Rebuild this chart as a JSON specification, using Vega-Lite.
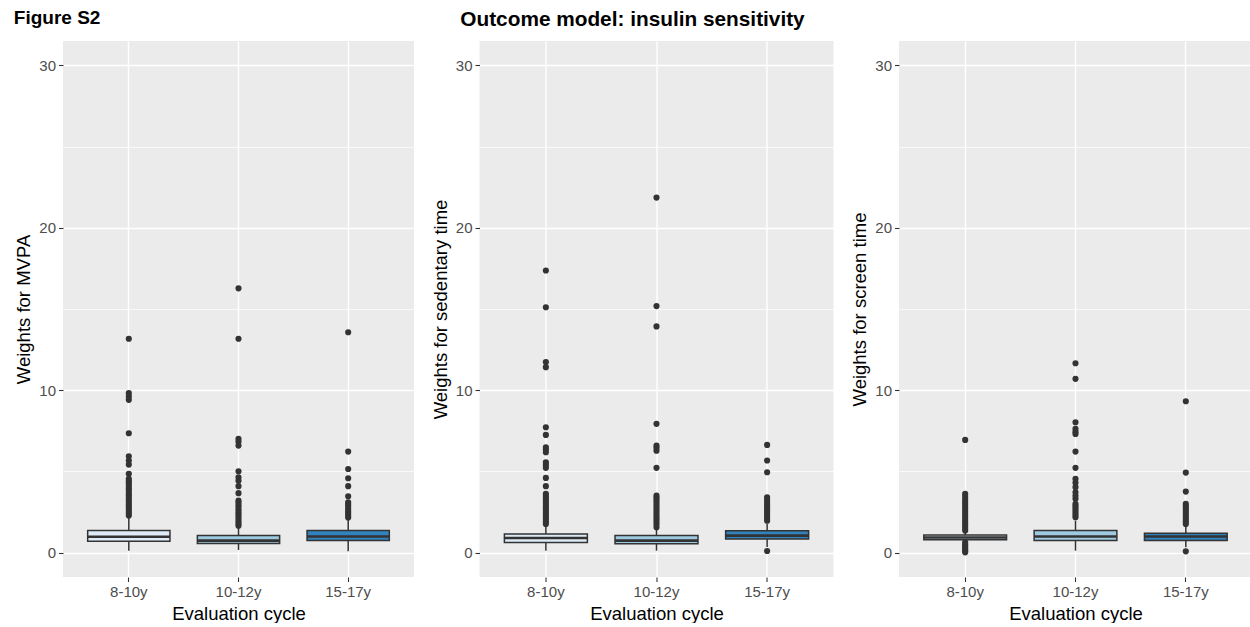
{
  "$schema": "https://vega.github.io/schema/vega-lite/v6.json",
  "padding": {"left": 13, "top": 9, "right": 0, "bottom": 0},
  "background": "white",
  "bounds": "flush",
  "spacing": 65.5,
  "config": {
    "font": "Liberation Sans",
    "view": {"fill": "#EBEBEB", "stroke": null},
    "axis": {
      "domain": false,
      "gridColor": "white",
      "gridWidth": 1.4,
      "tickColor": "#333333",
      "tickSize": 4.5,
      "tickWidth": 1.1,
      "labelColor": "#4D4D4D",
      "labelFontSize": 15,
      "labelPadding": 3,
      "titleColor": "black",
      "titleFontSize": 18.5,
      "titleFontWeight": "normal",
      "titlePadding": 5
    },
    "title": {"color": "black", "fontWeight": "bold", "fontSize": 19, "offset": 10}
  },
  "datasets": {
    "boxes": [
      {"panel": "MVPA", "cycle": "8-10y", "lower": 0.12, "q1": 0.70, "median": 0.98, "q3": 1.37, "upper": 2.14},
      {"panel": "MVPA", "cycle": "10-12y", "lower": 0.16, "q1": 0.57, "median": 0.74, "q3": 1.05, "upper": 1.56},
      {"panel": "MVPA", "cycle": "15-17y", "lower": 0.08, "q1": 0.74, "median": 0.99, "q3": 1.36, "upper": 2.03},
      {"panel": "SED", "cycle": "8-10y", "lower": 0.12, "q1": 0.62, "median": 0.90, "q3": 1.15, "upper": 1.66},
      {"panel": "SED", "cycle": "10-12y", "lower": 0.12, "q1": 0.55, "median": 0.74, "q3": 1.05, "upper": 1.50},
      {"panel": "SED", "cycle": "15-17y", "lower": 0.35, "q1": 0.84, "median": 1.05, "q3": 1.34, "upper": 1.77},
      {"panel": "SCR", "cycle": "8-10y", "lower": 0.68, "q1": 0.80, "median": 0.93, "q3": 1.08, "upper": 1.30},
      {"panel": "SCR", "cycle": "10-12y", "lower": 0.12, "q1": 0.74, "median": 0.99, "q3": 1.36, "upper": 1.97},
      {"panel": "SCR", "cycle": "15-17y", "lower": 0.33, "q1": 0.74, "median": 0.99, "q3": 1.19, "upper": 1.66}
    ],
    "outliers": [
      {"panel": "MVPA", "cycle": "8-10y", "value": 13.17}, {"panel": "MVPA", "cycle": "8-10y", "value": 9.82}, {"panel": "MVPA", "cycle": "8-10y", "value": 9.61}, {"panel": "MVPA", "cycle": "8-10y", "value": 9.41}, {"panel": "MVPA", "cycle": "8-10y", "value": 7.35}, {"panel": "MVPA", "cycle": "8-10y", "value": 5.93}, {"panel": "MVPA", "cycle": "8-10y", "value": 5.67}, {"panel": "MVPA", "cycle": "8-10y", "value": 5.42}, {"panel": "MVPA", "cycle": "8-10y", "value": 4.85}, {"panel": "MVPA", "cycle": "8-10y", "value": 4.54}, {"panel": "MVPA", "cycle": "8-10y", "value": 4.41}, {"panel": "MVPA", "cycle": "8-10y", "value": 4.30}, {"panel": "MVPA", "cycle": "8-10y", "value": 4.18}, {"panel": "MVPA", "cycle": "8-10y", "value": 4.02}, {"panel": "MVPA", "cycle": "8-10y", "value": 3.90}, {"panel": "MVPA", "cycle": "8-10y", "value": 3.77}, {"panel": "MVPA", "cycle": "8-10y", "value": 3.61}, {"panel": "MVPA", "cycle": "8-10y", "value": 3.50}, {"panel": "MVPA", "cycle": "8-10y", "value": 3.36}, {"panel": "MVPA", "cycle": "8-10y", "value": 3.22}, {"panel": "MVPA", "cycle": "8-10y", "value": 3.10}, {"panel": "MVPA", "cycle": "8-10y", "value": 2.95}, {"panel": "MVPA", "cycle": "8-10y", "value": 2.83}, {"panel": "MVPA", "cycle": "8-10y", "value": 2.69}, {"panel": "MVPA", "cycle": "8-10y", "value": 2.55}, {"panel": "MVPA", "cycle": "8-10y", "value": 2.41}, {"panel": "MVPA", "cycle": "8-10y", "value": 2.28},
      {"panel": "MVPA", "cycle": "10-12y", "value": 16.27}, {"panel": "MVPA", "cycle": "10-12y", "value": 13.17}, {"panel": "MVPA", "cycle": "10-12y", "value": 7.00}, {"panel": "MVPA", "cycle": "10-12y", "value": 6.82}, {"panel": "MVPA", "cycle": "10-12y", "value": 6.59}, {"panel": "MVPA", "cycle": "10-12y", "value": 5.01}, {"panel": "MVPA", "cycle": "10-12y", "value": 4.64}, {"panel": "MVPA", "cycle": "10-12y", "value": 4.43}, {"panel": "MVPA", "cycle": "10-12y", "value": 4.09}, {"panel": "MVPA", "cycle": "10-12y", "value": 3.66}, {"panel": "MVPA", "cycle": "10-12y", "value": 3.20}, {"panel": "MVPA", "cycle": "10-12y", "value": 3.08}, {"panel": "MVPA", "cycle": "10-12y", "value": 2.93}, {"panel": "MVPA", "cycle": "10-12y", "value": 2.80}, {"panel": "MVPA", "cycle": "10-12y", "value": 2.64}, {"panel": "MVPA", "cycle": "10-12y", "value": 2.50}, {"panel": "MVPA", "cycle": "10-12y", "value": 2.37}, {"panel": "MVPA", "cycle": "10-12y", "value": 2.22}, {"panel": "MVPA", "cycle": "10-12y", "value": 2.08}, {"panel": "MVPA", "cycle": "10-12y", "value": 1.93}, {"panel": "MVPA", "cycle": "10-12y", "value": 1.80}, {"panel": "MVPA", "cycle": "10-12y", "value": 1.66},
      {"panel": "MVPA", "cycle": "15-17y", "value": 13.57}, {"panel": "MVPA", "cycle": "15-17y", "value": 6.22}, {"panel": "MVPA", "cycle": "15-17y", "value": 5.15}, {"panel": "MVPA", "cycle": "15-17y", "value": 4.58}, {"panel": "MVPA", "cycle": "15-17y", "value": 4.09}, {"panel": "MVPA", "cycle": "15-17y", "value": 3.47}, {"panel": "MVPA", "cycle": "15-17y", "value": 3.10}, {"panel": "MVPA", "cycle": "15-17y", "value": 2.98}, {"panel": "MVPA", "cycle": "15-17y", "value": 2.85}, {"panel": "MVPA", "cycle": "15-17y", "value": 2.70}, {"panel": "MVPA", "cycle": "15-17y", "value": 2.57}, {"panel": "MVPA", "cycle": "15-17y", "value": 2.44}, {"panel": "MVPA", "cycle": "15-17y", "value": 2.30}, {"panel": "MVPA", "cycle": "15-17y", "value": 2.17},
      {"panel": "SED", "cycle": "8-10y", "value": 17.37}, {"panel": "SED", "cycle": "8-10y", "value": 15.11}, {"panel": "SED", "cycle": "8-10y", "value": 11.73}, {"panel": "SED", "cycle": "8-10y", "value": 11.42}, {"panel": "SED", "cycle": "8-10y", "value": 7.72}, {"panel": "SED", "cycle": "8-10y", "value": 7.25}, {"panel": "SED", "cycle": "8-10y", "value": 6.49}, {"panel": "SED", "cycle": "8-10y", "value": 6.35}, {"panel": "SED", "cycle": "8-10y", "value": 6.18}, {"panel": "SED", "cycle": "8-10y", "value": 5.56}, {"panel": "SED", "cycle": "8-10y", "value": 5.40}, {"panel": "SED", "cycle": "8-10y", "value": 5.22}, {"panel": "SED", "cycle": "8-10y", "value": 4.60}, {"panel": "SED", "cycle": "8-10y", "value": 4.09}, {"panel": "SED", "cycle": "8-10y", "value": 3.62}, {"panel": "SED", "cycle": "8-10y", "value": 3.48}, {"panel": "SED", "cycle": "8-10y", "value": 3.33}, {"panel": "SED", "cycle": "8-10y", "value": 3.20}, {"panel": "SED", "cycle": "8-10y", "value": 3.05}, {"panel": "SED", "cycle": "8-10y", "value": 2.90}, {"panel": "SED", "cycle": "8-10y", "value": 2.77}, {"panel": "SED", "cycle": "8-10y", "value": 2.63}, {"panel": "SED", "cycle": "8-10y", "value": 2.48}, {"panel": "SED", "cycle": "8-10y", "value": 2.34}, {"panel": "SED", "cycle": "8-10y", "value": 2.20}, {"panel": "SED", "cycle": "8-10y", "value": 2.05}, {"panel": "SED", "cycle": "8-10y", "value": 1.91}, {"panel": "SED", "cycle": "8-10y", "value": 1.77},
      {"panel": "SED", "cycle": "10-12y", "value": 21.86}, {"panel": "SED", "cycle": "10-12y", "value": 15.18}, {"panel": "SED", "cycle": "10-12y", "value": 13.93}, {"panel": "SED", "cycle": "10-12y", "value": 7.93}, {"panel": "SED", "cycle": "10-12y", "value": 6.59}, {"panel": "SED", "cycle": "10-12y", "value": 6.45}, {"panel": "SED", "cycle": "10-12y", "value": 6.28}, {"panel": "SED", "cycle": "10-12y", "value": 5.22}, {"panel": "SED", "cycle": "10-12y", "value": 3.51}, {"panel": "SED", "cycle": "10-12y", "value": 3.37}, {"panel": "SED", "cycle": "10-12y", "value": 3.22}, {"panel": "SED", "cycle": "10-12y", "value": 3.08}, {"panel": "SED", "cycle": "10-12y", "value": 2.93}, {"panel": "SED", "cycle": "10-12y", "value": 2.79}, {"panel": "SED", "cycle": "10-12y", "value": 2.64}, {"panel": "SED", "cycle": "10-12y", "value": 2.50}, {"panel": "SED", "cycle": "10-12y", "value": 2.35}, {"panel": "SED", "cycle": "10-12y", "value": 2.20}, {"panel": "SED", "cycle": "10-12y", "value": 2.06}, {"panel": "SED", "cycle": "10-12y", "value": 1.90}, {"panel": "SED", "cycle": "10-12y", "value": 1.75}, {"panel": "SED", "cycle": "10-12y", "value": 1.56},
      {"panel": "SED", "cycle": "15-17y", "value": 6.63}, {"panel": "SED", "cycle": "15-17y", "value": 5.67}, {"panel": "SED", "cycle": "15-17y", "value": 4.95}, {"panel": "SED", "cycle": "15-17y", "value": 3.41}, {"panel": "SED", "cycle": "15-17y", "value": 3.27}, {"panel": "SED", "cycle": "15-17y", "value": 3.12}, {"panel": "SED", "cycle": "15-17y", "value": 2.97}, {"panel": "SED", "cycle": "15-17y", "value": 2.82}, {"panel": "SED", "cycle": "15-17y", "value": 2.68}, {"panel": "SED", "cycle": "15-17y", "value": 2.54}, {"panel": "SED", "cycle": "15-17y", "value": 2.40}, {"panel": "SED", "cycle": "15-17y", "value": 2.25}, {"panel": "SED", "cycle": "15-17y", "value": 2.11}, {"panel": "SED", "cycle": "15-17y", "value": 1.97}, {"panel": "SED", "cycle": "15-17y", "value": 0.10},
      {"panel": "SCR", "cycle": "8-10y", "value": 6.94}, {"panel": "SCR", "cycle": "8-10y", "value": 3.62}, {"panel": "SCR", "cycle": "8-10y", "value": 3.47}, {"panel": "SCR", "cycle": "8-10y", "value": 3.30}, {"panel": "SCR", "cycle": "8-10y", "value": 3.15}, {"panel": "SCR", "cycle": "8-10y", "value": 3.00}, {"panel": "SCR", "cycle": "8-10y", "value": 2.84}, {"panel": "SCR", "cycle": "8-10y", "value": 2.70}, {"panel": "SCR", "cycle": "8-10y", "value": 2.55}, {"panel": "SCR", "cycle": "8-10y", "value": 2.40}, {"panel": "SCR", "cycle": "8-10y", "value": 2.25}, {"panel": "SCR", "cycle": "8-10y", "value": 2.10}, {"panel": "SCR", "cycle": "8-10y", "value": 1.95}, {"panel": "SCR", "cycle": "8-10y", "value": 1.80}, {"panel": "SCR", "cycle": "8-10y", "value": 1.66}, {"panel": "SCR", "cycle": "8-10y", "value": 1.50}, {"panel": "SCR", "cycle": "8-10y", "value": 1.36}, {"panel": "SCR", "cycle": "8-10y", "value": 0.64}, {"panel": "SCR", "cycle": "8-10y", "value": 0.52}, {"panel": "SCR", "cycle": "8-10y", "value": 0.42}, {"panel": "SCR", "cycle": "8-10y", "value": 0.30}, {"panel": "SCR", "cycle": "8-10y", "value": 0.20}, {"panel": "SCR", "cycle": "8-10y", "value": 0.10}, {"panel": "SCR", "cycle": "8-10y", "value": 0.02},
      {"panel": "SCR", "cycle": "10-12y", "value": 11.66}, {"panel": "SCR", "cycle": "10-12y", "value": 10.70}, {"panel": "SCR", "cycle": "10-12y", "value": 8.03}, {"panel": "SCR", "cycle": "10-12y", "value": 7.62}, {"panel": "SCR", "cycle": "10-12y", "value": 7.45}, {"panel": "SCR", "cycle": "10-12y", "value": 7.31}, {"panel": "SCR", "cycle": "10-12y", "value": 6.22}, {"panel": "SCR", "cycle": "10-12y", "value": 5.22}, {"panel": "SCR", "cycle": "10-12y", "value": 4.54}, {"panel": "SCR", "cycle": "10-12y", "value": 4.30}, {"panel": "SCR", "cycle": "10-12y", "value": 4.03}, {"panel": "SCR", "cycle": "10-12y", "value": 3.72}, {"panel": "SCR", "cycle": "10-12y", "value": 3.50}, {"panel": "SCR", "cycle": "10-12y", "value": 3.31}, {"panel": "SCR", "cycle": "10-12y", "value": 3.00}, {"panel": "SCR", "cycle": "10-12y", "value": 2.86}, {"panel": "SCR", "cycle": "10-12y", "value": 2.72}, {"panel": "SCR", "cycle": "10-12y", "value": 2.58}, {"panel": "SCR", "cycle": "10-12y", "value": 2.44}, {"panel": "SCR", "cycle": "10-12y", "value": 2.30}, {"panel": "SCR", "cycle": "10-12y", "value": 2.18},
      {"panel": "SCR", "cycle": "15-17y", "value": 9.32}, {"panel": "SCR", "cycle": "15-17y", "value": 4.93}, {"panel": "SCR", "cycle": "15-17y", "value": 3.76}, {"panel": "SCR", "cycle": "15-17y", "value": 3.00}, {"panel": "SCR", "cycle": "15-17y", "value": 2.86}, {"panel": "SCR", "cycle": "15-17y", "value": 2.72}, {"panel": "SCR", "cycle": "15-17y", "value": 2.58}, {"panel": "SCR", "cycle": "15-17y", "value": 2.44}, {"panel": "SCR", "cycle": "15-17y", "value": 2.30}, {"panel": "SCR", "cycle": "15-17y", "value": 2.16}, {"panel": "SCR", "cycle": "15-17y", "value": 2.02}, {"panel": "SCR", "cycle": "15-17y", "value": 1.90}, {"panel": "SCR", "cycle": "15-17y", "value": 1.77}, {"panel": "SCR", "cycle": "15-17y", "value": 0.08}
    ]
  },
  "hconcat": [
    {
      "width": 351, "height": 536,
      "title": {"text": "Figure S2", "anchor": "start", "frame": "bounds", "fontSize": 19, "dy": -3, "dx": -1},
      "layer": [
        {"data": {"name": "boxes"}, "transform": [{"filter": "datum.panel === 'MVPA'"}],
         "mark": {"type": "rule", "color": "#333333", "strokeWidth": 1.5},
         "encoding": {
           "x": {"field": "cycle", "type": "nominal", "sort": ["8-10y", "10-12y", "15-17y"], "scale": {"type": "band", "paddingInner": 0.25, "paddingOuter": 0.225}, "axis": {"title": "Evaluation cycle", "labelAngle": 0, "bandPosition": 0.5, "grid": true}},
           "y": {"field": "lower", "type": "quantitative", "title": "Weights for MVPA", "scale": {"domain": [-1.5, 31.5], "nice": false, "zero": false},
                 "axis": {"values": [0, 5, 10, 15, 20, 25, 30], "labelExpr": "datum.value % 10 === 0 ? datum.label : ''", "tickOpacity": {"condition": {"test": "datum.value % 10 === 0", "value": 1}, "value": 0}, "gridWidth": {"condition": {"test": "datum.value % 10 === 0", "value": 1.4}, "value": 0.7}}},
           "y2": {"field": "upper"}
         }},
        {"data": {"name": "boxes"}, "transform": [{"filter": "datum.panel === 'MVPA'"}],
         "mark": {"type": "bar", "stroke": "#333333", "strokeWidth": 1.5},
         "encoding": {
           "x": {"field": "cycle", "type": "nominal", "sort": ["8-10y", "10-12y", "15-17y"]},
           "y": {"field": "q1", "type": "quantitative", "title": "Weights for MVPA"},
           "y2": {"field": "q3"},
           "fill": {"field": "cycle", "type": "nominal", "scale": {"domain": ["8-10y", "10-12y", "15-17y"], "range": ["#DEEBF7", "#9ECAE1", "#3182BD"]}, "legend": null}
         }},
        {"data": {"name": "boxes"}, "transform": [{"filter": "datum.panel === 'MVPA'"}],
         "mark": {"type": "bar", "fill": null, "stroke": "#333333", "strokeWidth": 2.6},
         "encoding": {
           "x": {"field": "cycle", "type": "nominal", "sort": ["8-10y", "10-12y", "15-17y"]},
           "y": {"field": "median", "type": "quantitative", "title": "Weights for MVPA"},
           "y2": {"field": "median"}
         }},
        {"data": {"name": "outliers"}, "transform": [{"filter": "datum.panel === 'MVPA'"}],
         "mark": {"type": "circle", "color": "#333333", "size": 38, "opacity": 1},
         "encoding": {
           "x": {"field": "cycle", "type": "nominal", "sort": ["8-10y", "10-12y", "15-17y"]},
           "y": {"field": "value", "type": "quantitative", "title": "Weights for MVPA"}
         }},
        {"mark": {"type": "rule", "color": "black", "strokeWidth": 1.7},
         "encoding": {"y": {"datum": 1, "type": "quantitative", "title": "Weights for MVPA"}}}
      ]
    },
    {
      "width": 354, "height": 536,
      "title": {"text": "Outcome model: insulin sensitivity", "anchor": "middle", "frame": "group", "dx": -24, "fontSize": 20.8},
      "layer": [
        {"data": {"name": "boxes"}, "transform": [{"filter": "datum.panel === 'SED'"}],
         "mark": {"type": "rule", "color": "#333333", "strokeWidth": 1.5},
         "encoding": {
           "x": {"field": "cycle", "type": "nominal", "sort": ["8-10y", "10-12y", "15-17y"], "scale": {"type": "band", "paddingInner": 0.25, "paddingOuter": 0.225}, "axis": {"title": "Evaluation cycle", "labelAngle": 0, "bandPosition": 0.5, "grid": true}},
           "y": {"field": "lower", "type": "quantitative", "title": "Weights for sedentary time", "scale": {"domain": [-1.5, 31.5], "nice": false, "zero": false},
                 "axis": {"values": [0, 5, 10, 15, 20, 25, 30], "labelExpr": "datum.value % 10 === 0 ? datum.label : ''", "tickOpacity": {"condition": {"test": "datum.value % 10 === 0", "value": 1}, "value": 0}, "gridWidth": {"condition": {"test": "datum.value % 10 === 0", "value": 1.4}, "value": 0.7}}},
           "y2": {"field": "upper"}
         }},
        {"data": {"name": "boxes"}, "transform": [{"filter": "datum.panel === 'SED'"}],
         "mark": {"type": "bar", "stroke": "#333333", "strokeWidth": 1.5},
         "encoding": {
           "x": {"field": "cycle", "type": "nominal", "sort": ["8-10y", "10-12y", "15-17y"]},
           "y": {"field": "q1", "type": "quantitative", "title": "Weights for sedentary time"},
           "y2": {"field": "q3"},
           "fill": {"field": "cycle", "type": "nominal", "scale": {"domain": ["8-10y", "10-12y", "15-17y"], "range": ["#DEEBF7", "#9ECAE1", "#3182BD"]}, "legend": null}
         }},
        {"data": {"name": "boxes"}, "transform": [{"filter": "datum.panel === 'SED'"}],
         "mark": {"type": "bar", "fill": null, "stroke": "#333333", "strokeWidth": 2.6},
         "encoding": {
           "x": {"field": "cycle", "type": "nominal", "sort": ["8-10y", "10-12y", "15-17y"]},
           "y": {"field": "median", "type": "quantitative", "title": "Weights for sedentary time"},
           "y2": {"field": "median"}
         }},
        {"data": {"name": "outliers"}, "transform": [{"filter": "datum.panel === 'SED'"}],
         "mark": {"type": "circle", "color": "#333333", "size": 38, "opacity": 1},
         "encoding": {
           "x": {"field": "cycle", "type": "nominal", "sort": ["8-10y", "10-12y", "15-17y"]},
           "y": {"field": "value", "type": "quantitative", "title": "Weights for sedentary time"}
         }},
        {"mark": {"type": "rule", "color": "black", "strokeWidth": 1.7},
         "encoding": {"y": {"datum": 1, "type": "quantitative", "title": "Weights for sedentary time"}}}
      ]
    },
    {
      "width": 353, "height": 536,
      "layer": [
        {"data": {"name": "boxes"}, "transform": [{"filter": "datum.panel === 'SCR'"}],
         "mark": {"type": "rule", "color": "#333333", "strokeWidth": 1.5},
         "encoding": {
           "x": {"field": "cycle", "type": "nominal", "sort": ["8-10y", "10-12y", "15-17y"], "scale": {"type": "band", "paddingInner": 0.25, "paddingOuter": 0.225}, "axis": {"title": "Evaluation cycle", "labelAngle": 0, "bandPosition": 0.5, "grid": true}},
           "y": {"field": "lower", "type": "quantitative", "title": "Weights for screen time", "scale": {"domain": [-1.5, 31.5], "nice": false, "zero": false},
                 "axis": {"values": [0, 5, 10, 15, 20, 25, 30], "labelExpr": "datum.value % 10 === 0 ? datum.label : ''", "tickOpacity": {"condition": {"test": "datum.value % 10 === 0", "value": 1}, "value": 0}, "gridWidth": {"condition": {"test": "datum.value % 10 === 0", "value": 1.4}, "value": 0.7}}},
           "y2": {"field": "upper"}
         }},
        {"data": {"name": "boxes"}, "transform": [{"filter": "datum.panel === 'SCR'"}],
         "mark": {"type": "bar", "stroke": "#333333", "strokeWidth": 1.5},
         "encoding": {
           "x": {"field": "cycle", "type": "nominal", "sort": ["8-10y", "10-12y", "15-17y"]},
           "y": {"field": "q1", "type": "quantitative", "title": "Weights for screen time"},
           "y2": {"field": "q3"},
           "fill": {"field": "cycle", "type": "nominal", "scale": {"domain": ["8-10y", "10-12y", "15-17y"], "range": ["#DEEBF7", "#9ECAE1", "#3182BD"]}, "legend": null}
         }},
        {"data": {"name": "boxes"}, "transform": [{"filter": "datum.panel === 'SCR'"}],
         "mark": {"type": "bar", "fill": null, "stroke": "#333333", "strokeWidth": 2.6},
         "encoding": {
           "x": {"field": "cycle", "type": "nominal", "sort": ["8-10y", "10-12y", "15-17y"]},
           "y": {"field": "median", "type": "quantitative", "title": "Weights for screen time"},
           "y2": {"field": "median"}
         }},
        {"data": {"name": "outliers"}, "transform": [{"filter": "datum.panel === 'SCR'"}],
         "mark": {"type": "circle", "color": "#333333", "size": 38, "opacity": 1},
         "encoding": {
           "x": {"field": "cycle", "type": "nominal", "sort": ["8-10y", "10-12y", "15-17y"]},
           "y": {"field": "value", "type": "quantitative", "title": "Weights for screen time"}
         }},
        {"mark": {"type": "rule", "color": "black", "strokeWidth": 1.7},
         "encoding": {"y": {"datum": 1, "type": "quantitative", "title": "Weights for screen time"}}}
      ]
    }
  ]
}
